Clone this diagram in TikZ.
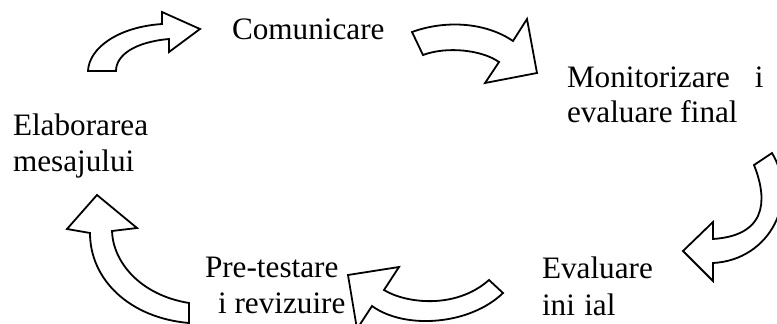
\documentclass[tikz,border=0pt]{standalone}
\usepackage{fontspec}
\setmainfont{Liberation Serif}
\begin{document}
\begin{tikzpicture}[x=1pt,y=-1pt,
  blockarrow/.style={draw=black, line width=1.8pt, fill=white, line join=miter},
  steplabel/.style={anchor=base west, inner sep=0pt, outer sep=0pt,
    font=\fontsize{31.2}{36}\selectfont}]
  \useasboundingbox (0,0) rectangle (777,324);
  \clip (0,0) rectangle (777,324);

  % stage labels
  \node[steplabel] (com)   at (232,39)  {Comunicare};
  \node[steplabel] (mon1)  at (567,87)  {Monitorizare\hspace{0.8em}i};
  \node[steplabel] (mon2)  at (567,122) {evaluare final};
  \node[steplabel] (eval1) at (542,278) {Evaluare};
  \node[steplabel] (eval2) at (542,315) {ini\hspace{0.3em}ial};
  \node[steplabel] (pre1)  at (205,277) {Pre-testare};
  \node[steplabel] (pre2)  at (205,313) {\hspace{0.42em}i revizuire};
  \node[steplabel] (ela1)  at (13,135)  {Elaborarea};
  \node[steplabel] (ela2)  at (13,171)  {mesajului};

  % curved block arrows of the cycle
  \draw[blockarrow] (88,71) .. controls (89,48) and (118,27) .. (162,24)
    -- (162,12) -- (200,29) -- (169,52) -- (169,39)
    .. controls (135,42) and (116,55) .. (116,71) -- cycle;

  \draw[blockarrow] (412,32) .. controls (445,20) and (485,22) .. (513,41)
    -- (527,19) -- (537,73) -- (485,83) -- (499,62)
    .. controls (482,50) and (447,46) .. (423,55) -- cycle;

  \draw[blockarrow] (754,165) -- (772,153)
    .. controls (800,200) and (770,260) .. (713,263)
    -- (713,281) -- (683,251) -- (713,222) -- (713,239)
    .. controls (774,235) and (764,190) .. (754,165) -- cycle;

  \draw[blockarrow] (348,275) -- (399,267) -- (384,290)
    .. controls (405,303) and (455,310) .. (489,280)
    -- (503,293) .. controls (470,325) and (405,330) .. (372,306)
    -- (357,329) -- cycle;

  \draw[blockarrow] (97,195) -- (137,228) -- (112,231)
    .. controls (113,262) and (140,295) .. (189,303)
    -- (189,323) .. controls (130,318) and (90,280) .. (90,233)
    -- (67,229) -- cycle;
\end{tikzpicture}
\end{document}
